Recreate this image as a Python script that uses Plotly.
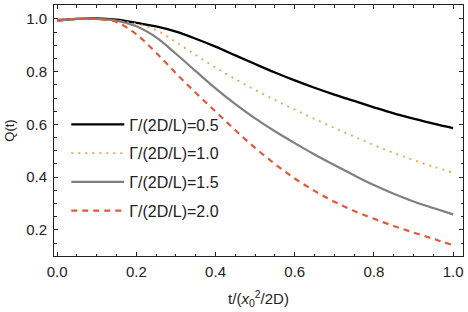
import plotly.graph_objects as go

x = [0, 0.05, 0.1, 0.15, 0.2, 0.25, 0.3, 0.35, 0.4, 0.45, 0.5,
     0.55, 0.6, 0.65, 0.7, 0.75, 0.8, 0.85, 0.9, 0.95, 1.0]

q_05 = [0.994, 1.0, 1.002, 0.997, 0.985, 0.972, 0.952, 0.925, 0.895, 0.862, 0.829,
        0.797, 0.767, 0.739, 0.713, 0.689, 0.665, 0.642, 0.622, 0.603, 0.586]
q_10 = [0.995, 1.0, 1.0, 0.993, 0.981, 0.958, 0.912, 0.863, 0.816, 0.772, 0.731,
        0.693, 0.656, 0.621, 0.587, 0.554, 0.522, 0.492, 0.465, 0.44, 0.417]
q_15 = [0.993, 1.0, 1.0, 0.994, 0.972, 0.93, 0.868, 0.802, 0.737, 0.677, 0.623,
        0.574, 0.529, 0.486, 0.446, 0.407, 0.370, 0.337, 0.308, 0.283, 0.259]
q_20 = [0.997, 1.0, 1.0, 0.988, 0.942, 0.872, 0.794, 0.72, 0.649, 0.578, 0.511,
        0.45, 0.395, 0.348, 0.307, 0.272, 0.242, 0.215, 0.19, 0.166, 0.142]

names = ["Γ/(2D/L)=0.5", "Γ/(2D/L)=1.0", "Γ/(2D/L)=1.5", "Γ/(2D/L)=2.0"]
series = [q_05, q_10, q_15, q_20]
colors = ["#000000", "#E3A655", "#808080", "#E05A3A"]
dashes = ["solid", "2px,5px", "solid", "6px,5px"]
widths = [2.3, 1.8, 2.2, 2.2]

fig = go.Figure()
for i, (n, s) in enumerate(zip(names, series)):
    fig.add_trace(go.Scatter(
        x=x, y=s, mode="lines", name=n, legendgroup=str(i),
        line=dict(color=colors[i], dash=dashes[i], width=widths[i], shape="spline", smoothing=1.0),
    ))

axis_common = dict(
    showline=True, linecolor="#222", linewidth=1, mirror="ticks",
    ticks="inside", ticklen=4, tickcolor="#222", tickwidth=1,
    showgrid=False, zeroline=False, ticklabeloverflow="allow",
    tickfont=dict(family="Liberation Sans", size=15, color="#222"),
)

fig.update_xaxes(
    range=[-0.008, 1.025], tickvals=[0, 0.2, 0.4, 0.6, 0.8, 1.0],
    ticktext=["0.0", "0.2", "0.4", "0.6", "0.8", "1.0"],
    minor=dict(dtick=0.05, tick0=0, ticks="inside", ticklen=2.5, tickcolor="#222"),
    ticklabelstandoff=2,
    title=dict(text="t/(<i>x</i><sub>0</sub><sup>2</sup>/2D)",
               font=dict(family="Liberation Sans", size=15, color="#222"), standoff=14),
    **axis_common,
)
fig.update_yaxes(
    range=[0.101, 1.053], tickvals=[0.2, 0.4, 0.6, 0.8, 1.0],
    ticktext=["0.2", "0.4", "0.6", "0.8", "1.0"],
    minor=dict(dtick=0.05, tick0=0, ticks="inside", ticklen=2.5, tickcolor="#222"),
    ticklabelstandoff=3,
    title=dict(text="Q(t)", font=dict(family="Liberation Sans", size=13, color="#222"), standoff=8),
    **axis_common,
)

fig.update_layout(
    width=468, height=312,
    margin=dict(l=54, r=5, t=5, b=56),
    plot_bgcolor="white", paper_bgcolor="white",
    legend=dict(x=0.03, y=0.592, xanchor="left", yanchor="top", itemwidth=53,
                bgcolor="rgba(0,0,0,0)", tracegroupgap=5,
                font=dict(family="Liberation Sans", size=16, color="#222")),
    showlegend=True,
)

fig.write_html("out.html", config={"displayModeBar": False},
               post_script="document.body.style.margin='0';document.body.style.overflow='hidden';")
